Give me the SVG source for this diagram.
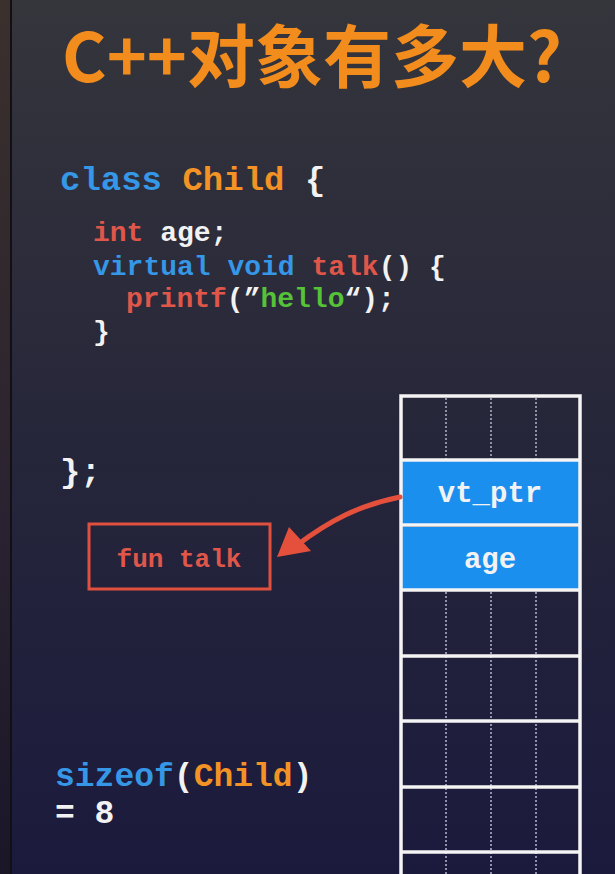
<svg xmlns="http://www.w3.org/2000/svg" width="615" height="874" viewBox="0 0 615 874">
<defs>
<linearGradient id="bg" x1="0" y1="0" x2="0" y2="1">
<stop offset="0" stop-color="#35353c"/>
<stop offset="0.5" stop-color="#26263a"/>
<stop offset="1" stop-color="#1b1a3d"/>
</linearGradient>
<linearGradient id="strip" x1="0" y1="0" x2="0" y2="1">
<stop offset="0" stop-color="#3a302c"/>
<stop offset="0.6" stop-color="#2a2230"/>
<stop offset="1" stop-color="#1a1628"/>
</linearGradient>
</defs>
<style>
.code{font-family:"Liberation Mono","DejaVu Sans Mono",monospace;font-weight:bold;}
.kw{fill:#3597e6;}
.ty{fill:#f39325;}
.rd{fill:#e0574a;}
.gr{fill:#55c238;}
.wh{fill:#f2f2f2;}
.cell{fill:#1a8fee;}
.grid{stroke:#f4f4f4;stroke-width:3.5;fill:none;}
.dot{stroke:#9190aa;stroke-width:2;stroke-dasharray:2 2;}
</style>
<rect width="615" height="874" fill="url(#bg)"/>
<rect width="10" height="874" fill="url(#strip)"/>
<rect x="10" width="2" height="874" fill="#111015"/>

<g id="title">
<text x="312" y="82" text-anchor="middle" font-family="'Noto Sans CJK SC','Noto Sans',sans-serif" font-weight="bold" font-size="68" fill="#f28c1c">C++对象有多大?</text>
</g>

<g id="code" class="code">
<text x="60" y="190" font-size="34"><tspan class="kw">class</tspan> <tspan class="ty">Child</tspan> <tspan class="wh">{</tspan></text>
<text x="93" y="241" font-size="28"><tspan class="rd">int</tspan> <tspan class="wh">age;</tspan></text>
<text x="93" y="275" font-size="28"><tspan class="kw">virtual void</tspan> <tspan class="rd">talk</tspan><tspan class="wh">() {</tspan></text>
<text x="126" y="307" font-size="28"><tspan class="rd">printf</tspan><tspan class="wh">(”</tspan><tspan class="gr">hello</tspan><tspan class="wh">“);</tspan></text>
<text x="93" y="340" font-size="28" class="wh">}</text>
<text x="60" y="482" font-size="34" class="wh">};</text>
</g>

<g id="memory">
<rect class="cell" x="402" y="461" width="177" height="63"/>
<rect class="cell" x="402" y="527" width="177" height="62"/>
<g>
<line class="dot" x1="446" y1="398" x2="446" y2="459"/>
<line class="dot" x1="491" y1="398" x2="491" y2="459"/>
<line class="dot" x1="536" y1="398" x2="536" y2="459"/>
<line class="dot" x1="446" y1="592" x2="446" y2="874"/>
<line class="dot" x1="491" y1="592" x2="491" y2="874"/>
<line class="dot" x1="536" y1="592" x2="536" y2="874"/>
</g>
<path class="grid" d="M401,880 V396 H580 V880"/>
<path class="grid" d="M401,460 H580 M401,525 H580 M401,590 H580 M401,656 H580 M401,721 H580 M401,787 H580 M401,852 H580"/>
<text x="490" y="502" text-anchor="middle" class="code wh" font-size="29">vt_ptr</text>
<text x="490" y="568" text-anchor="middle" class="code wh" font-size="29">age</text>
</g>

<g id="funtalk">
<rect x="89" y="524" width="181" height="65" fill="none" stroke="#e0503e" stroke-width="3"/>
<text x="179" y="567" text-anchor="middle" class="code rd" font-size="26">fun talk</text>
</g>

<g id="connectors">
<path d="M400,497 C360,505 330,520 296,546" fill="none" stroke="#e4503c" stroke-width="5" stroke-linecap="round"/>
<path d="M277,557 L289,527 L311,551 z" fill="#e4503c"/>
</g>

<g id="sizeof" class="code">
<text x="55" y="786" font-size="33"><tspan class="kw">sizeof</tspan><tspan class="wh">(</tspan><tspan class="ty">Child</tspan><tspan class="wh">)</tspan></text>
<text x="55" y="823" font-size="33" class="wh">= 8</text>
</g>
</svg>
